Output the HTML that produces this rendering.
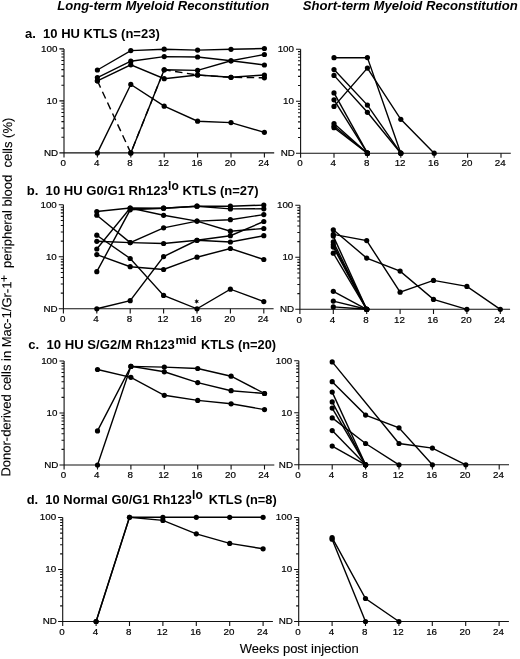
<!DOCTYPE html>
<html><head><meta charset="utf-8"><style>
html,body{margin:0;padding:0;background:#fff;}
body{width:520px;height:659px;overflow:hidden;}
svg{display:block;filter:blur(0.3px);font-family:"Liberation Sans",sans-serif;}
.tl{font-size:9.8px;fill:#000;stroke:#000;stroke-width:0.2px;}
.ti{font-size:13px;font-weight:bold;font-style:italic;fill:#000;}
.pl{font-size:13px;font-weight:bold;fill:#000;}
.ax{font-size:13px;fill:#000;stroke:#000;stroke-width:0.12px;}
</style></head><body>
<svg width="520" height="659" viewBox="0 0 520 659">
<rect width="520" height="659" fill="#fff"/>
<text class="ti" x="57.2" y="10.4" textLength="212" lengthAdjust="spacingAndGlyphs">Long-term Myeloid Reconstitution</text>
<text class="ti" x="302.8" y="10" textLength="215" lengthAdjust="spacingAndGlyphs">Short-term Myeloid Reconstitution</text>
<text class="pl" x="25" y="37.6" xml:space="preserve">a.  10 HU KTLS (n=23)</text>
<text class="pl" x="26.7" y="195.3" xml:space="preserve" textLength="141.2" lengthAdjust="spacingAndGlyphs">b.  10 HU G0/G1 Rh123</text>
<text class="pl" x="168.1" y="190.2" style="font-size:12px">lo</text>
<text class="pl" x="182.4" y="195.3">KTLS (n=27)</text>
<text class="pl" x="28.2" y="349.3" xml:space="preserve" textLength="146.7" lengthAdjust="spacingAndGlyphs">c.  10 HU S/G2/M Rh123</text>
<text class="pl" x="175.5" y="344.4" style="font-size:11.8px">mid</text>
<text class="pl" x="200.9" y="349.3" textLength="75.2" lengthAdjust="spacingAndGlyphs">KTLS (n=20)</text>
<text class="pl" x="26.7" y="503.6" xml:space="preserve" textLength="165.2" lengthAdjust="spacingAndGlyphs">d.  10 Normal G0/G1 Rh123</text>
<text class="pl" x="192.1" y="498.9" style="font-size:12px">lo</text>
<text class="pl" x="208.8" y="503.6" textLength="67.9" lengthAdjust="spacingAndGlyphs">KTLS (n=8)</text>
<path d="M196.70 298.80 L197.27 300.40 L198.95 300.10 L197.85 301.40 L198.95 302.70 L197.27 302.40 L196.70 304.00 L196.12 302.40 L194.45 302.70 L195.55 301.40 L194.45 300.10 L196.12 300.40Z" fill="#000"/>
<g transform="translate(10.3 476.6) rotate(-89.72)"><text class="ax" x="0" y="0">Donor-derived cells in Mac-1/Gr-1</text><text class="ax" x="194.6" y="-3.2" style="font-size:12px">+</text><text class="ax" x="208.6" y="0" xml:space="preserve">peripheral blood  cells (%)</text></g>
<text class="ax" x="239.8" y="653.4">Weeks post injection</text>
<g fill="#000">
<path d="M59.4 152.9H274.2M64 48.9V157.5" stroke="#111" stroke-width="1.1" fill="none"/>
<path d="M59.4 48.9H64M59.4 100.9H64M61.4 137.25H64M61.4 128.09H64M61.4 121.59H64M61.4 116.55H64M61.4 112.44H64M61.4 108.95H64M61.4 105.94H64M61.4 103.28H64M61.4 85.25H64M61.4 76.09H64M61.4 69.59H64M61.4 64.55H64M61.4 60.44H64M61.4 56.95H64M61.4 53.94H64M61.4 51.28H64M97.4 152.9V157.5M130.8 152.9V157.5M164.2 152.9V157.5M197.6 152.9V157.5M231 152.9V157.5M264.4 152.9V157.5" stroke="#111" stroke-width="1.1" fill="none"/>
<g class="tl"><text x="57.4" y="51.7" text-anchor="end">100</text><text x="57.4" y="103.7" text-anchor="end">10</text><text x="58.2" y="155.7" text-anchor="end">ND</text><text x="63.3" y="166.1" text-anchor="middle">0</text><text x="96.7" y="166.1" text-anchor="middle">4</text><text x="130.1" y="166.1" text-anchor="middle">8</text><text x="163.5" y="166.1" text-anchor="middle">12</text><text x="196.9" y="166.1" text-anchor="middle">16</text><text x="230.3" y="166.1" text-anchor="middle">20</text><text x="263.7" y="166.1" text-anchor="middle">24</text></g>
<path d="M97.4 70 L130.8 50.6 L164.2 49.2 L197.6 50.1 L231 49.3 L264.4 48.5" fill="none" stroke="#000" stroke-width="1.4"/>
<circle cx="97.4" cy="70" r="2.6"/>
<circle cx="130.8" cy="50.6" r="2.6"/>
<circle cx="164.2" cy="49.2" r="2.6"/>
<circle cx="197.6" cy="50.1" r="2.6"/>
<circle cx="231" cy="49.3" r="2.6"/>
<circle cx="264.4" cy="48.5" r="2.6"/>
<path d="M97.4 77.6 L130.8 61.2 L164.2 56.6 L197.6 57 L231 60.8 L264.4 65" fill="none" stroke="#000" stroke-width="1.4"/>
<circle cx="97.4" cy="77.6" r="2.6"/>
<circle cx="130.8" cy="61.2" r="2.6"/>
<circle cx="164.2" cy="56.6" r="2.6"/>
<circle cx="197.6" cy="57" r="2.6"/>
<circle cx="231" cy="60.8" r="2.6"/>
<circle cx="264.4" cy="65" r="2.6"/>
<path d="M97.4 80.8 L130.8 64.8 L164.2 78.7 L197.6 75 L231 77.3 L264.4 75" fill="none" stroke="#000" stroke-width="1.4"/>
<circle cx="97.4" cy="80.8" r="2.6"/>
<circle cx="130.8" cy="64.8" r="2.6"/>
<circle cx="164.2" cy="78.7" r="2.6"/>
<circle cx="197.6" cy="75" r="2.6"/>
<circle cx="231" cy="77.3" r="2.6"/>
<circle cx="264.4" cy="75" r="2.6"/>
<path d="M97.4 80.8 L130.8 152.9 L164.2 69.8 L197.6 75 L231 77.3 L264.4 77.8" fill="none" stroke="#000" stroke-width="1.4" stroke-dasharray="7.5 4.5"/>
<circle cx="97.4" cy="80.8" r="2.6"/>
<circle cx="130.8" cy="152.9" r="2.6"/>
<circle cx="164.2" cy="69.8" r="2.6"/>
<circle cx="197.6" cy="75" r="2.6"/>
<circle cx="231" cy="77.3" r="2.6"/>
<circle cx="264.4" cy="77.8" r="2.6"/>
<path d="M97.4 152.9 L130.8 84.4 L164.2 106.2 L197.6 121.2 L231 122.6 L264.4 132.3" fill="none" stroke="#000" stroke-width="1.4"/>
<circle cx="97.4" cy="152.9" r="2.6"/>
<circle cx="130.8" cy="84.4" r="2.6"/>
<circle cx="164.2" cy="106.2" r="2.6"/>
<circle cx="197.6" cy="121.2" r="2.6"/>
<circle cx="231" cy="122.6" r="2.6"/>
<circle cx="264.4" cy="132.3" r="2.6"/>
<path d="M130.8 152.9 L164.2 69.8 L197.6 70.4 L231 60.8 L264.4 54.5" fill="none" stroke="#000" stroke-width="1.4"/>
<circle cx="130.8" cy="152.9" r="2.6"/>
<circle cx="164.2" cy="69.8" r="2.6"/>
<circle cx="197.6" cy="70.4" r="2.6"/>
<circle cx="231" cy="60.8" r="2.6"/>
<circle cx="264.4" cy="54.5" r="2.6"/>
<path d="M296 153.2H510.8M300.6 49.2V157.8" stroke="#111" stroke-width="1.1" fill="none"/>
<path d="M296 49.2H300.6M296 101.2H300.6M298 137.55H300.6M298 128.39H300.6M298 121.89H300.6M298 116.85H300.6M298 112.74H300.6M298 109.25H300.6M298 106.24H300.6M298 103.58H300.6M298 85.55H300.6M298 76.39H300.6M298 69.89H300.6M298 64.85H300.6M298 60.74H300.6M298 57.25H300.6M298 54.24H300.6M298 51.58H300.6M334 153.2V157.8M367.4 153.2V157.8M400.8 153.2V157.8M434.2 153.2V157.8M467.6 153.2V157.8M501 153.2V157.8" stroke="#111" stroke-width="1.1" fill="none"/>
<g class="tl"><text x="294" y="52" text-anchor="end">100</text><text x="294" y="104" text-anchor="end">10</text><text x="294.8" y="156" text-anchor="end">ND</text><text x="299.9" y="166.4" text-anchor="middle">0</text><text x="333.3" y="166.4" text-anchor="middle">4</text><text x="366.7" y="166.4" text-anchor="middle">8</text><text x="400.1" y="166.4" text-anchor="middle">12</text><text x="433.5" y="166.4" text-anchor="middle">16</text><text x="466.9" y="166.4" text-anchor="middle">20</text><text x="500.3" y="166.4" text-anchor="middle">24</text></g>
<path d="M334 57.7 L367.4 57.6 L400.8 153.2" fill="none" stroke="#000" stroke-width="1.4"/>
<circle cx="334" cy="57.7" r="2.6"/>
<circle cx="367.4" cy="57.6" r="2.6"/>
<circle cx="400.8" cy="153.2" r="2.6"/>
<path d="M334 69.6 L367.4 105.1 L400.8 153.2" fill="none" stroke="#000" stroke-width="1.4"/>
<circle cx="334" cy="69.6" r="2.6"/>
<circle cx="367.4" cy="105.1" r="2.6"/>
<circle cx="400.8" cy="153.2" r="2.6"/>
<path d="M334 75.4 L367.4 112.3 L400.8 153.2" fill="none" stroke="#000" stroke-width="1.4"/>
<circle cx="334" cy="75.4" r="2.6"/>
<circle cx="367.4" cy="112.3" r="2.6"/>
<circle cx="400.8" cy="153.2" r="2.6"/>
<path d="M334 106.4 L367.4 68.1 L400.8 119.3 L434.2 153.2" fill="none" stroke="#000" stroke-width="1.4"/>
<circle cx="334" cy="106.4" r="2.6"/>
<circle cx="367.4" cy="68.1" r="2.6"/>
<circle cx="400.8" cy="119.3" r="2.6"/>
<circle cx="434.2" cy="153.2" r="2.6"/>
<path d="M334 92.9 L367.4 153.2" fill="none" stroke="#000" stroke-width="1.4"/>
<circle cx="334" cy="92.9" r="2.6"/>
<circle cx="367.4" cy="153.2" r="2.6"/>
<path d="M334 99.8 L367.4 153.2" fill="none" stroke="#000" stroke-width="1.4"/>
<circle cx="334" cy="99.8" r="2.6"/>
<circle cx="367.4" cy="153.2" r="2.6"/>
<path d="M334 123.6 L367.4 153.2" fill="none" stroke="#000" stroke-width="1.4"/>
<circle cx="334" cy="123.6" r="2.6"/>
<circle cx="367.4" cy="153.2" r="2.6"/>
<path d="M334 126 L367.4 153.2" fill="none" stroke="#000" stroke-width="1.4"/>
<circle cx="334" cy="126" r="2.6"/>
<circle cx="367.4" cy="153.2" r="2.6"/>
<path d="M334 127.7 L367.4 153.2" fill="none" stroke="#000" stroke-width="1.4"/>
<circle cx="334" cy="127.7" r="2.6"/>
<circle cx="367.4" cy="153.2" r="2.6"/>
<path d="M58.8 308.8H273.6M63.4 204.8V313.4" stroke="#111" stroke-width="1.1" fill="none"/>
<path d="M58.8 204.8H63.4M58.8 256.8H63.4M60.8 293.15H63.4M60.8 283.99H63.4M60.8 277.49H63.4M60.8 272.45H63.4M60.8 268.34H63.4M60.8 264.85H63.4M60.8 261.84H63.4M60.8 259.18H63.4M60.8 241.15H63.4M60.8 231.99H63.4M60.8 225.49H63.4M60.8 220.45H63.4M60.8 216.34H63.4M60.8 212.85H63.4M60.8 209.84H63.4M60.8 207.18H63.4M96.8 308.8V313.4M130.2 308.8V313.4M163.6 308.8V313.4M197 308.8V313.4M230.4 308.8V313.4M263.8 308.8V313.4" stroke="#111" stroke-width="1.1" fill="none"/>
<g class="tl"><text x="56.8" y="207.6" text-anchor="end">100</text><text x="56.8" y="259.6" text-anchor="end">10</text><text x="57.6" y="311.6" text-anchor="end">ND</text><text x="62.7" y="322" text-anchor="middle">0</text><text x="96.1" y="322" text-anchor="middle">4</text><text x="129.5" y="322" text-anchor="middle">8</text><text x="162.9" y="322" text-anchor="middle">12</text><text x="196.3" y="322" text-anchor="middle">16</text><text x="229.7" y="322" text-anchor="middle">20</text><text x="263.1" y="322" text-anchor="middle">24</text></g>
<path d="M96.8 211.5 L130.2 208 L163.6 208.2 L197 206.2 L230.4 206.2 L263.8 205.1" fill="none" stroke="#000" stroke-width="1.4"/>
<circle cx="96.8" cy="211.5" r="2.6"/>
<circle cx="130.2" cy="208" r="2.6"/>
<circle cx="163.6" cy="208.2" r="2.6"/>
<circle cx="197" cy="206.2" r="2.6"/>
<circle cx="230.4" cy="206.2" r="2.6"/>
<circle cx="263.8" cy="205.1" r="2.6"/>
<path d="M96.8 271.7 L130.2 209.8 L163.6 208.2 L197 206.2 L230.4 208.9 L263.8 208.8" fill="none" stroke="#000" stroke-width="1.4"/>
<circle cx="96.8" cy="271.7" r="2.6"/>
<circle cx="130.2" cy="209.8" r="2.6"/>
<circle cx="163.6" cy="208.2" r="2.6"/>
<circle cx="197" cy="206.2" r="2.6"/>
<circle cx="230.4" cy="208.9" r="2.6"/>
<circle cx="263.8" cy="208.8" r="2.6"/>
<path d="M96.8 249 L130.2 208 L163.6 215.3 L197 221.1 L230.4 231.2 L263.8 228.5" fill="none" stroke="#000" stroke-width="1.4"/>
<circle cx="96.8" cy="249" r="2.6"/>
<circle cx="130.2" cy="208" r="2.6"/>
<circle cx="163.6" cy="215.3" r="2.6"/>
<circle cx="197" cy="221.1" r="2.6"/>
<circle cx="230.4" cy="231.2" r="2.6"/>
<circle cx="263.8" cy="228.5" r="2.6"/>
<path d="M96.8 215.2 L130.2 242.6 L163.6 227.8 L197 221.1 L230.4 219.7 L263.8 214.6" fill="none" stroke="#000" stroke-width="1.4"/>
<circle cx="96.8" cy="215.2" r="2.6"/>
<circle cx="130.2" cy="242.6" r="2.6"/>
<circle cx="163.6" cy="227.8" r="2.6"/>
<circle cx="197" cy="221.1" r="2.6"/>
<circle cx="230.4" cy="219.7" r="2.6"/>
<circle cx="263.8" cy="214.6" r="2.6"/>
<path d="M96.8 241.3 L130.2 242.6 L163.6 243.5 L197 240.3 L230.4 242 L263.8 235.7" fill="none" stroke="#000" stroke-width="1.4"/>
<circle cx="96.8" cy="241.3" r="2.6"/>
<circle cx="130.2" cy="242.6" r="2.6"/>
<circle cx="163.6" cy="243.5" r="2.6"/>
<circle cx="197" cy="240.3" r="2.6"/>
<circle cx="230.4" cy="242" r="2.6"/>
<circle cx="263.8" cy="235.7" r="2.6"/>
<path d="M96.8 308.8 L130.2 300.7 L163.6 256.6 L197 240.3 L230.4 235.7 L263.8 221.5" fill="none" stroke="#000" stroke-width="1.4"/>
<circle cx="96.8" cy="308.8" r="2.6"/>
<circle cx="130.2" cy="300.7" r="2.6"/>
<circle cx="163.6" cy="256.6" r="2.6"/>
<circle cx="197" cy="240.3" r="2.6"/>
<circle cx="230.4" cy="235.7" r="2.6"/>
<circle cx="263.8" cy="221.5" r="2.6"/>
<path d="M96.8 254.6 L130.2 266.7 L163.6 269.5 L197 257.2 L230.4 248.5 L263.8 259.5" fill="none" stroke="#000" stroke-width="1.4"/>
<circle cx="96.8" cy="254.6" r="2.6"/>
<circle cx="130.2" cy="266.7" r="2.6"/>
<circle cx="163.6" cy="269.5" r="2.6"/>
<circle cx="197" cy="257.2" r="2.6"/>
<circle cx="230.4" cy="248.5" r="2.6"/>
<circle cx="263.8" cy="259.5" r="2.6"/>
<path d="M96.8 235.2 L130.2 258.5 L163.6 295.4 L197 308.8 L230.4 289.2 L263.8 301.6" fill="none" stroke="#000" stroke-width="1.4"/>
<circle cx="96.8" cy="235.2" r="2.6"/>
<circle cx="130.2" cy="258.5" r="2.6"/>
<circle cx="163.6" cy="295.4" r="2.6"/>
<circle cx="197" cy="308.8" r="2.6"/>
<circle cx="230.4" cy="289.2" r="2.6"/>
<circle cx="263.8" cy="301.6" r="2.6"/>
<path d="M295.3 309.3H510.1M299.9 205.3V313.9" stroke="#111" stroke-width="1.1" fill="none"/>
<path d="M295.3 205.3H299.9M295.3 257.3H299.9M297.3 293.65H299.9M297.3 284.49H299.9M297.3 277.99H299.9M297.3 272.95H299.9M297.3 268.84H299.9M297.3 265.35H299.9M297.3 262.34H299.9M297.3 259.68H299.9M297.3 241.65H299.9M297.3 232.49H299.9M297.3 225.99H299.9M297.3 220.95H299.9M297.3 216.84H299.9M297.3 213.35H299.9M297.3 210.34H299.9M297.3 207.68H299.9M333.3 309.3V313.9M366.7 309.3V313.9M400.1 309.3V313.9M433.5 309.3V313.9M466.9 309.3V313.9M500.3 309.3V313.9" stroke="#111" stroke-width="1.1" fill="none"/>
<g class="tl"><text x="293.3" y="208.1" text-anchor="end">100</text><text x="293.3" y="260.1" text-anchor="end">10</text><text x="294.1" y="312.1" text-anchor="end">ND</text><text x="299.2" y="322.5" text-anchor="middle">0</text><text x="332.6" y="322.5" text-anchor="middle">4</text><text x="366" y="322.5" text-anchor="middle">8</text><text x="399.4" y="322.5" text-anchor="middle">12</text><text x="432.8" y="322.5" text-anchor="middle">16</text><text x="466.2" y="322.5" text-anchor="middle">20</text><text x="499.6" y="322.5" text-anchor="middle">24</text></g>
<path d="M333.3 229.8 L366.7 258.1 L400.1 271.1 L433.5 299.4 L466.9 309.3" fill="none" stroke="#000" stroke-width="1.4"/>
<circle cx="333.3" cy="229.8" r="2.6"/>
<circle cx="366.7" cy="258.1" r="2.6"/>
<circle cx="400.1" cy="271.1" r="2.6"/>
<circle cx="433.5" cy="299.4" r="2.6"/>
<circle cx="466.9" cy="309.3" r="2.6"/>
<path d="M333.3 234.4 L366.7 240.6 L400.1 292.2 L433.5 280.4 L466.9 286.4 L500.3 309.3" fill="none" stroke="#000" stroke-width="1.4"/>
<circle cx="333.3" cy="234.4" r="2.6"/>
<circle cx="366.7" cy="240.6" r="2.6"/>
<circle cx="400.1" cy="292.2" r="2.6"/>
<circle cx="433.5" cy="280.4" r="2.6"/>
<circle cx="466.9" cy="286.4" r="2.6"/>
<circle cx="500.3" cy="309.3" r="2.6"/>
<path d="M333.3 236.1 L366.7 309.3" fill="none" stroke="#000" stroke-width="1.4"/>
<circle cx="333.3" cy="236.1" r="2.6"/>
<circle cx="366.7" cy="309.3" r="2.6"/>
<path d="M333.3 241.9 L366.7 309.3" fill="none" stroke="#000" stroke-width="1.4"/>
<circle cx="333.3" cy="241.9" r="2.6"/>
<circle cx="366.7" cy="309.3" r="2.6"/>
<path d="M333.3 244.8 L366.7 309.3" fill="none" stroke="#000" stroke-width="1.4"/>
<circle cx="333.3" cy="244.8" r="2.6"/>
<circle cx="366.7" cy="309.3" r="2.6"/>
<path d="M333.3 247.1 L366.7 309.3" fill="none" stroke="#000" stroke-width="1.4"/>
<circle cx="333.3" cy="247.1" r="2.6"/>
<circle cx="366.7" cy="309.3" r="2.6"/>
<path d="M333.3 253.2 L366.7 309.3" fill="none" stroke="#000" stroke-width="1.4"/>
<circle cx="333.3" cy="253.2" r="2.6"/>
<circle cx="366.7" cy="309.3" r="2.6"/>
<path d="M333.3 291.3 L366.7 309.3" fill="none" stroke="#000" stroke-width="1.4"/>
<circle cx="333.3" cy="291.3" r="2.6"/>
<circle cx="366.7" cy="309.3" r="2.6"/>
<path d="M333.3 301.1 L366.7 309.3" fill="none" stroke="#000" stroke-width="1.4"/>
<circle cx="333.3" cy="301.1" r="2.6"/>
<circle cx="366.7" cy="309.3" r="2.6"/>
<path d="M333.3 306.9 L366.7 309.3" fill="none" stroke="#000" stroke-width="1.4"/>
<circle cx="333.3" cy="306.9" r="2.6"/>
<circle cx="366.7" cy="309.3" r="2.6"/>
<path d="M59.5 465H274.3M64.1 361V469.6" stroke="#111" stroke-width="1.1" fill="none"/>
<path d="M59.5 361H64.1M59.5 413H64.1M61.5 449.35H64.1M61.5 440.19H64.1M61.5 433.69H64.1M61.5 428.65H64.1M61.5 424.54H64.1M61.5 421.05H64.1M61.5 418.04H64.1M61.5 415.38H64.1M61.5 397.35H64.1M61.5 388.19H64.1M61.5 381.69H64.1M61.5 376.65H64.1M61.5 372.54H64.1M61.5 369.05H64.1M61.5 366.04H64.1M61.5 363.38H64.1M97.5 465V469.6M130.9 465V469.6M164.3 465V469.6M197.7 465V469.6M231.1 465V469.6M264.5 465V469.6" stroke="#111" stroke-width="1.1" fill="none"/>
<g class="tl"><text x="57.5" y="363.8" text-anchor="end">100</text><text x="57.5" y="415.8" text-anchor="end">10</text><text x="58.3" y="467.8" text-anchor="end">ND</text><text x="63.4" y="478.2" text-anchor="middle">0</text><text x="96.8" y="478.2" text-anchor="middle">4</text><text x="130.2" y="478.2" text-anchor="middle">8</text><text x="163.6" y="478.2" text-anchor="middle">12</text><text x="197" y="478.2" text-anchor="middle">16</text><text x="230.4" y="478.2" text-anchor="middle">20</text><text x="263.8" y="478.2" text-anchor="middle">24</text></g>
<path d="M97.5 369.5 L130.9 377.3 L164.3 395.3 L197.7 400.4 L231.1 403.8 L264.5 409.6" fill="none" stroke="#000" stroke-width="1.4"/>
<circle cx="97.5" cy="369.5" r="2.6"/>
<circle cx="130.9" cy="377.3" r="2.6"/>
<circle cx="164.3" cy="395.3" r="2.6"/>
<circle cx="197.7" cy="400.4" r="2.6"/>
<circle cx="231.1" cy="403.8" r="2.6"/>
<circle cx="264.5" cy="409.6" r="2.6"/>
<path d="M97.5 430.9 L130.9 366.4 L164.3 367.1 L197.7 368.5 L231.1 376.2 L264.5 393.5" fill="none" stroke="#000" stroke-width="1.4"/>
<circle cx="97.5" cy="430.9" r="2.6"/>
<circle cx="130.9" cy="366.4" r="2.6"/>
<circle cx="164.3" cy="367.1" r="2.6"/>
<circle cx="197.7" cy="368.5" r="2.6"/>
<circle cx="231.1" cy="376.2" r="2.6"/>
<circle cx="264.5" cy="393.5" r="2.6"/>
<path d="M97.5 465 L130.9 366.4 L164.3 371.8 L197.7 382.6 L231.1 390.7 L264.5 393.5" fill="none" stroke="#000" stroke-width="1.4"/>
<circle cx="97.5" cy="465" r="2.6"/>
<circle cx="130.9" cy="366.4" r="2.6"/>
<circle cx="164.3" cy="371.8" r="2.6"/>
<circle cx="197.7" cy="382.6" r="2.6"/>
<circle cx="231.1" cy="390.7" r="2.6"/>
<circle cx="264.5" cy="393.5" r="2.6"/>
<path d="M294.2 464.8H509M298.8 360.8V469.4" stroke="#111" stroke-width="1.1" fill="none"/>
<path d="M294.2 360.8H298.8M294.2 412.8H298.8M296.2 449.15H298.8M296.2 439.99H298.8M296.2 433.49H298.8M296.2 428.45H298.8M296.2 424.34H298.8M296.2 420.85H298.8M296.2 417.84H298.8M296.2 415.18H298.8M296.2 397.15H298.8M296.2 387.99H298.8M296.2 381.49H298.8M296.2 376.45H298.8M296.2 372.34H298.8M296.2 368.85H298.8M296.2 365.84H298.8M296.2 363.18H298.8M332.2 464.8V469.4M365.6 464.8V469.4M399 464.8V469.4M432.4 464.8V469.4M465.8 464.8V469.4M499.2 464.8V469.4" stroke="#111" stroke-width="1.1" fill="none"/>
<g class="tl"><text x="292.2" y="363.6" text-anchor="end">100</text><text x="292.2" y="415.6" text-anchor="end">10</text><text x="293" y="467.6" text-anchor="end">ND</text><text x="298.1" y="478" text-anchor="middle">0</text><text x="331.5" y="478" text-anchor="middle">4</text><text x="364.9" y="478" text-anchor="middle">8</text><text x="398.3" y="478" text-anchor="middle">12</text><text x="431.7" y="478" text-anchor="middle">16</text><text x="465.1" y="478" text-anchor="middle">20</text><text x="498.5" y="478" text-anchor="middle">24</text></g>
<path d="M332.2 361.9 L399 443.5 L432.4 448.1 L465.8 464.8" fill="none" stroke="#000" stroke-width="1.4"/>
<circle cx="332.2" cy="361.9" r="2.6"/>
<circle cx="399" cy="443.5" r="2.6"/>
<circle cx="432.4" cy="448.1" r="2.6"/>
<circle cx="465.8" cy="464.8" r="2.6"/>
<path d="M332.2 381.7 L365.6 415.1 L399 427.8 L432.4 464.8" fill="none" stroke="#000" stroke-width="1.4"/>
<circle cx="332.2" cy="381.7" r="2.6"/>
<circle cx="365.6" cy="415.1" r="2.6"/>
<circle cx="399" cy="427.8" r="2.6"/>
<circle cx="432.4" cy="464.8" r="2.6"/>
<path d="M332.2 392.1 L365.6 464.8" fill="none" stroke="#000" stroke-width="1.4"/>
<circle cx="332.2" cy="392.1" r="2.6"/>
<circle cx="365.6" cy="464.8" r="2.6"/>
<path d="M332.2 401.9 L365.6 464.8" fill="none" stroke="#000" stroke-width="1.4"/>
<circle cx="332.2" cy="401.9" r="2.6"/>
<circle cx="365.6" cy="464.8" r="2.6"/>
<path d="M332.2 408.1 L365.6 464.8" fill="none" stroke="#000" stroke-width="1.4"/>
<circle cx="332.2" cy="408.1" r="2.6"/>
<circle cx="365.6" cy="464.8" r="2.6"/>
<path d="M332.2 417.9 L365.6 443.5 L399 464.8" fill="none" stroke="#000" stroke-width="1.4"/>
<circle cx="332.2" cy="417.9" r="2.6"/>
<circle cx="365.6" cy="443.5" r="2.6"/>
<circle cx="399" cy="464.8" r="2.6"/>
<path d="M332.2 430.6 L365.6 464.8" fill="none" stroke="#000" stroke-width="1.4"/>
<circle cx="332.2" cy="430.6" r="2.6"/>
<circle cx="365.6" cy="464.8" r="2.6"/>
<path d="M332.2 446.1 L365.6 464.8" fill="none" stroke="#000" stroke-width="1.4"/>
<circle cx="332.2" cy="446.1" r="2.6"/>
<circle cx="365.6" cy="464.8" r="2.6"/>
<path d="M58.1 621.5H272.9M62.7 517.5V626.1" stroke="#111" stroke-width="1.1" fill="none"/>
<path d="M58.1 517.5H62.7M58.1 569.5H62.7M60.1 605.85H62.7M60.1 596.69H62.7M60.1 590.19H62.7M60.1 585.15H62.7M60.1 581.04H62.7M60.1 577.55H62.7M60.1 574.54H62.7M60.1 571.88H62.7M60.1 553.85H62.7M60.1 544.69H62.7M60.1 538.19H62.7M60.1 533.15H62.7M60.1 529.04H62.7M60.1 525.55H62.7M60.1 522.54H62.7M60.1 519.88H62.7M96.1 621.5V626.1M129.5 621.5V626.1M162.9 621.5V626.1M196.3 621.5V626.1M229.7 621.5V626.1M263.1 621.5V626.1" stroke="#111" stroke-width="1.1" fill="none"/>
<g class="tl"><text x="56.1" y="520.3" text-anchor="end">100</text><text x="56.1" y="572.3" text-anchor="end">10</text><text x="56.9" y="624.3" text-anchor="end">ND</text><text x="62" y="634.7" text-anchor="middle">0</text><text x="95.4" y="634.7" text-anchor="middle">4</text><text x="128.8" y="634.7" text-anchor="middle">8</text><text x="162.2" y="634.7" text-anchor="middle">12</text><text x="195.6" y="634.7" text-anchor="middle">16</text><text x="229" y="634.7" text-anchor="middle">20</text><text x="262.4" y="634.7" text-anchor="middle">24</text></g>
<path d="M96.1 621.5 L129.5 517.3 L162.9 517.3 L196.3 517.3 L229.7 517.3 L263.1 517.3" fill="none" stroke="#000" stroke-width="1.4"/>
<circle cx="96.1" cy="621.5" r="2.6"/>
<circle cx="129.5" cy="517.3" r="2.6"/>
<circle cx="162.9" cy="517.3" r="2.6"/>
<circle cx="196.3" cy="517.3" r="2.6"/>
<circle cx="229.7" cy="517.3" r="2.6"/>
<circle cx="263.1" cy="517.3" r="2.6"/>
<path d="M96.1 621.5 L129.5 517.3 L162.9 520.4 L196.3 533.8 L229.7 543.4 L263.1 548.8" fill="none" stroke="#000" stroke-width="1.4"/>
<circle cx="96.1" cy="621.5" r="2.6"/>
<circle cx="129.5" cy="517.3" r="2.6"/>
<circle cx="162.9" cy="520.4" r="2.6"/>
<circle cx="196.3" cy="533.8" r="2.6"/>
<circle cx="229.7" cy="543.4" r="2.6"/>
<circle cx="263.1" cy="548.8" r="2.6"/>
<path d="M294.1 621.5H508.9M298.7 517.5V626.1" stroke="#111" stroke-width="1.1" fill="none"/>
<path d="M294.1 517.5H298.7M294.1 569.5H298.7M296.1 605.85H298.7M296.1 596.69H298.7M296.1 590.19H298.7M296.1 585.15H298.7M296.1 581.04H298.7M296.1 577.55H298.7M296.1 574.54H298.7M296.1 571.88H298.7M296.1 553.85H298.7M296.1 544.69H298.7M296.1 538.19H298.7M296.1 533.15H298.7M296.1 529.04H298.7M296.1 525.55H298.7M296.1 522.54H298.7M296.1 519.88H298.7M332.1 621.5V626.1M365.5 621.5V626.1M398.9 621.5V626.1M432.3 621.5V626.1M465.7 621.5V626.1M499.1 621.5V626.1" stroke="#111" stroke-width="1.1" fill="none"/>
<g class="tl"><text x="292.1" y="520.3" text-anchor="end">100</text><text x="292.1" y="572.3" text-anchor="end">10</text><text x="292.9" y="624.3" text-anchor="end">ND</text><text x="298" y="634.7" text-anchor="middle">0</text><text x="331.4" y="634.7" text-anchor="middle">4</text><text x="364.8" y="634.7" text-anchor="middle">8</text><text x="398.2" y="634.7" text-anchor="middle">12</text><text x="431.6" y="634.7" text-anchor="middle">16</text><text x="465" y="634.7" text-anchor="middle">20</text><text x="498.4" y="634.7" text-anchor="middle">24</text></g>
<path d="M332.1 537.7 L365.5 598.5 L398.9 621.5" fill="none" stroke="#000" stroke-width="1.4"/>
<circle cx="332.1" cy="537.7" r="2.6"/>
<circle cx="365.5" cy="598.5" r="2.6"/>
<circle cx="398.9" cy="621.5" r="2.6"/>
<path d="M332.1 539.2 L365.5 621.5" fill="none" stroke="#000" stroke-width="1.4"/>
<circle cx="332.1" cy="539.2" r="2.6"/>
<circle cx="365.5" cy="621.5" r="2.6"/>
</g>
</svg>
</body></html>
